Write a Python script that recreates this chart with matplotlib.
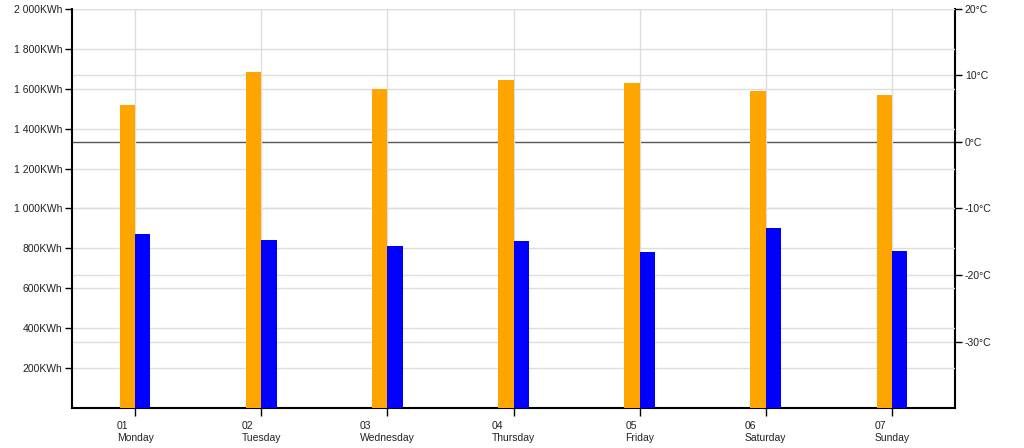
import matplotlib
matplotlib.use("Agg")
import matplotlib.pyplot as plt
import numpy as np

days = ["01\nMonday", "02\nTuesday", "03\nWednesday", "04\nThursday",
        "05\nFriday", "06\nSaturday", "07\nSunday"]
energy_orange = [1519, 1684, 1599, 1644, 1629, 1589, 1569]
energy_blue = [872, 842, 812, 837, 782, 902, 787]
kwh_ticks = [200, 400, 600, 800, 1000, 1200, 1400, 1600, 1800, 2000]
temp_ticks = [-30, -20, -10, 0, 10, 20]

plt.rcParams['font.family'] = ['Liberation Sans', 'DejaVu Sans']

fig = plt.figure(figsize=(10.24, 4.48), dpi=100)
ax = fig.add_axes([72/1024, 1-408/448, (955-72)/1024, (408-9)/448])
ax2 = ax.twinx()

x = np.arange(len(days))
w = 0.122
ax.bar(x - w/2, energy_orange, width=w, color='#FFA500', zorder=3)
ax.bar(x + w/2, energy_blue, width=w, color='#0000FF', zorder=3)

ax.set_xlim(-0.5, len(days) - 0.5)
ax.set_ylim(0, 2000)
ax.set_yticks(kwh_ticks)
ax.set_yticklabels([f"{v:,}".replace(",", " ") + "KWh" for v in kwh_ticks])
ax.set_xticks(x)
ax.set_xticklabels(days, ha='center', multialignment='left', linespacing=1.35)

ax2.set_ylim(-40, 20)
ax2.set_yticks(temp_ticks)
ax2.set_yticklabels([f"{v}°C" for v in temp_ticks])

# grids
ax.set_axisbelow(True)
for v in kwh_ticks:
    ax.axhline(v, color='#dddddd', lw=1, zorder=0)
for v in temp_ticks:
    if v == 0:
        continue
    ax2.axhline(v, color='#dddddd', lw=1, zorder=0)
for xi in x:
    ax.axvline(xi, color='#dddddd', lw=1, zorder=0)
ax2.axhline(0, color='#555555', lw=1, zorder=1)
ax2.set_zorder(ax.get_zorder() - 1)
ax.patch.set_visible(False)

for a in (ax, ax2):
    a.spines['top'].set_visible(False)
    a.spines['left'].set_linewidth(1.5)
    a.spines['bottom'].set_linewidth(1.5)
    a.spines['right'].set_linewidth(1.5)
    a.tick_params(labelsize=7.5, colors='black', labelcolor='#222222', width=1, length=5)
ax2.spines['left'].set_visible(False)
ax2.spines['bottom'].set_visible(False)
ax.spines['right'].set_visible(False)
ax.tick_params(axis='x', length=6, pad=3)
ax2.tick_params(axis='y', pad=2)
ax.tick_params(axis='y', pad=2)

fig.savefig("out.png", dpi=100)
